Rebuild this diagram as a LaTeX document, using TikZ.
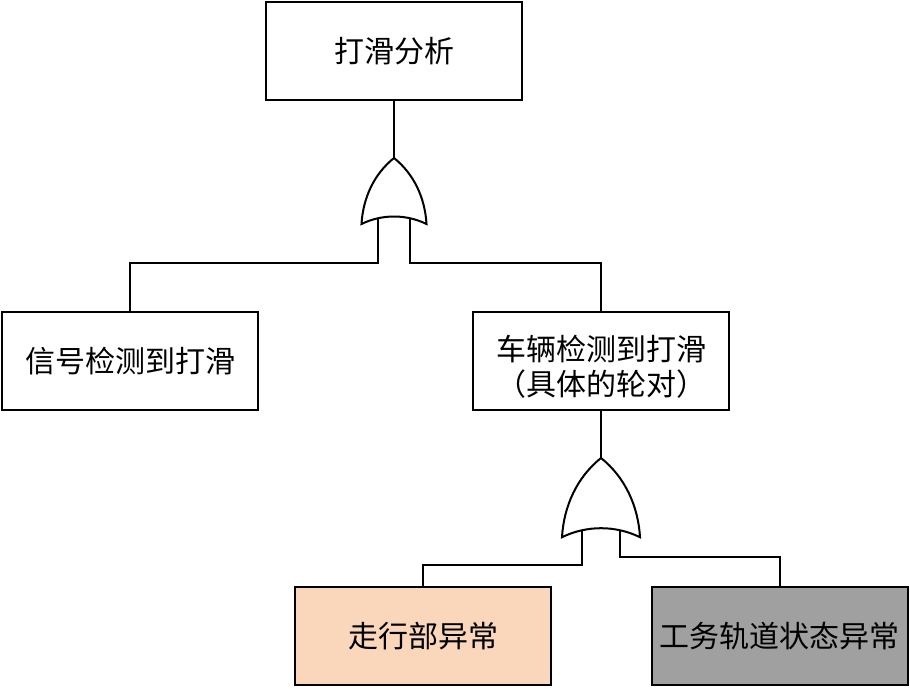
\documentclass[tikz,border=0pt]{standalone}
\usepackage{fontspec}
\newfontfamily\cjk{Noto Sans CJK SC}
\usetikzlibrary{positioning}
\definecolor{runfill}{HTML}{FAD7BB}
\definecolor{trackfill}{HTML}{A0A0A0}

\tikzset{
    event/.style={draw=black, rectangle, line width=2pt,
        minimum width=256pt, minimum height=98pt, align=center,
        fill=white, font=\cjk\fontsize{30}{35}\selectfont},
    wire/.style={line width=2pt},
    pics/orgate/.style={code={
        \draw[wire, fill=white] (0,0)
            .. controls (-20,16) and (-31,40) .. (-32.5,66)
            .. controls (-12,56) and (12,56) .. (32.5,66)
            .. controls (31,40) and (20,16) .. (0,0) -- cycle;
        \coordinate (-top) at (0,0);
        \coordinate (-in1) at (-16,60);
        \coordinate (-in2) at (16,60);
    }}
}

\begin{document}
\begin{tikzpicture}[x=1pt, y=-1pt]
    \useasboundingbox (0,0) rectangle (910,688);
    % NODES
    % top event
    \node[event] (top) at (394,51) {打滑分析};
    % first level
    \node[event] (sig) at (130,361) {信号检测到打滑};
    \node[event] (veh) at (601,361) {\rule{0pt}{37pt}车辆检测到打滑\\（具体的轮对）};
    % second level
    \node[event, fill=runfill] (run) at (423,636) {走行部异常};
    \node[event, fill=trackfill] (track) at (779.5,636) {工务轨道状态异常};
    % gates
    \pic (g1) at (394,158) {orgate};
    \pic[scale=1.2] (g2) at (601,458) {orgate};

    % WIRES
    \draw[wire] (top.south) -- (g1-top);
    \draw[wire] (g1-in1) -- ++(0,45) -| (sig.north);
    \draw[wire] (g1-in2) -- ++(0,45) -| (veh.north);
    \draw[wire] (veh.south) -- (g2-top);
    \draw[wire] (g2-in1) -- ++(0,35) -| (run.north);
    \draw[wire] (g2-in2) -- ++(0,27) -| (track.north);
\end{tikzpicture}
\end{document}
